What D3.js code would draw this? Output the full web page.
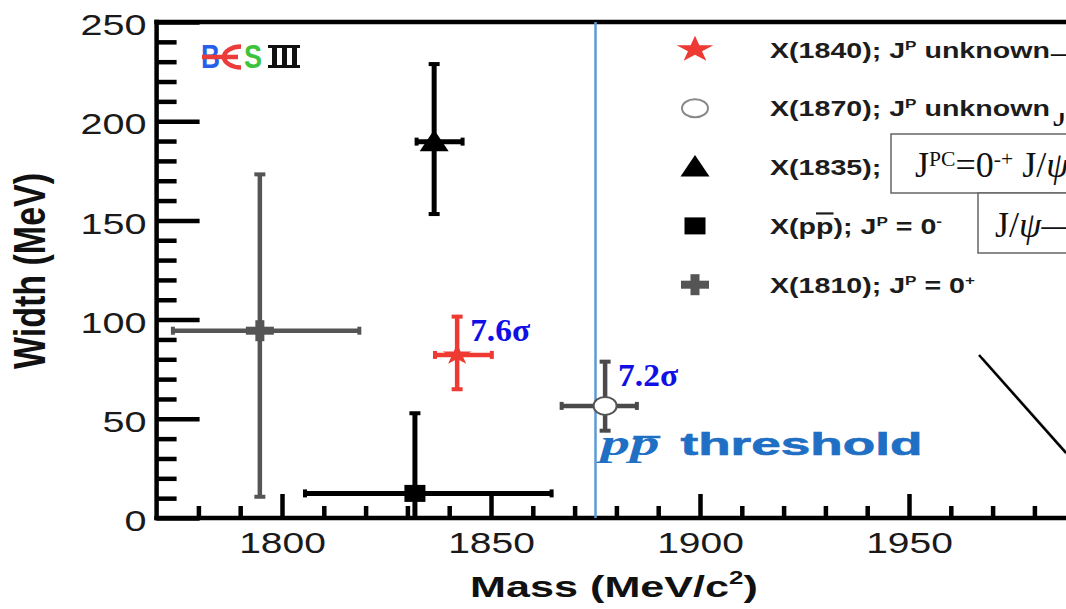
<!DOCTYPE html>
<html>
<head>
<meta charset="utf-8">
<script src="https://cdn.jsdelivr.net/npm/d3@7/dist/d3.min.js"></script>
<style>
  body { margin: 0; background: #fff; }
  svg { display: block; }
</style>
</head>
<body>
<div id="chart"></div>
<script>
// values (mass and width in MeV)
var states       = ["X(1840)", "X(1870)", "X(1835)", "X(pp)", "X(1810)"];
var mass         = [1841.9, 1877.3, 1836.4, 1831.8, 1794.7];
var massLo       = [1836.6, 1866.9, 1832.2, 1805.5, 1773.9];
var massHi       = [1850.2, 1884.9, 1843.2, 1864.5, 1818.5];
var width        = [82.2, 56.5, 189.7, 12.4, 94.4];
var widthLo      = [64.9, 44.0, 153.2, 0, 10.7];
var widthHi      = [101.5, 78.8, 228.8, 52.8, 173.2];
var significance = ["7.6σ", "7.2σ", "", "", ""];
var legendLabels = [
  "X(1840); J^{P} unknown",
  "X(1870); J^{P} unknown",
  "X(1835);",
  "X(p~{p}); J^{P} = 0^{-}",
  "X(1810); J^{P} = 0^{+}"
];
var thresholdMass = 1875;
var xTicks = [1800, 1850, 1900, 1950];
var yTicks = [0, 50, 100, 150, 200, 250];

// marker styles, one per state
var shapes    = ["star", "circle", "triangle", "square", "cross"];
var markColor = ["#ee3a32", "#fff", "#000", "#000", "#555"];
var barColor  = ["#ee3a32", "#4a4a4a", "#000", "#000", "#555"];

var svgWidth = 1066;
var svgHeight = 609;
var sans = "Liberation Sans, Arial, sans-serif";
var serif = "Liberation Serif, Times New Roman, serif";

var svg = d3.select("#chart")
  .append("svg")
  .attr("width", svgWidth)
  .attr("height", svgHeight)
  .attr("font-family", sans);

// the picture is stretched sideways, so the scales are not square
var x = d3.scaleLinear().domain([1770, 2000]).range([156.6, 1118]);
var y = d3.scaleLinear().domain([0, 250]).range([518, 22]);

// widen / squeeze a text horizontally around its x
function squeeze(sel, k) {
  sel.each(function () {
    var x0 = +this.getAttribute("x") || 0;
    this.setAttribute("transform", "translate(" + x0 * (1 - k) + ",0) scale(" + k + ",1)");
  });
}
function fitTo(sel, w) {
  squeeze(sel, w / sel.node().getBBox().width);
}

// "^{..}" superscript, "~{..}" overline, "*{..}" italic
function richText(sel, str, size, raise) {
  var parts = str.split(/(\^\{[^}]*\}|~\{[^}]*\}|\*\{[^}]*\})/).filter(function (s) { return s.length; });
  var up = false;
  parts.forEach(function (p) {
    var t = sel.append("tspan");
    if (p[0] === "^") {
      t.text(p.slice(2, -1)).attr("font-size", size * 0.6).attr("dy", -size * raise);
      up = true;
      return;
    }
    if (up) t.attr("dy", size * raise);
    up = false;
    if (p[0] === "~") t.text(p.slice(2, -1)).style("text-decoration", "overline");
    else if (p[0] === "*") t.text(p.slice(2, -1)).attr("font-style", "italic");
    else t.text(p);
  });
}

function marker(g, shape, fill, starR) {
  if (shape === "star") {
    g.append("path")
      .attr("d", d3.symbol().type(d3.symbolStar).size(starR * starR / 0.8908)())
      .attr("transform", "scale(1.4,1)")
      .attr("fill", fill);
  } else if (shape === "circle") {
    g.append("ellipse").attr("rx", starR > 12 ? 13 : 11.5).attr("ry", 9)
      .attr("fill", "#fff").attr("stroke", starR > 12 ? "#888" : "#555").attr("stroke-width", 2);
  } else if (shape === "triangle") {
    g.append("path").attr("d", "M0,-12L14.5,9.5L-14.5,9.5Z").attr("fill", fill);
  } else if (shape === "square") {
    g.append("rect").attr("x", -10.5).attr("y", -8.5).attr("width", 21).attr("height", 17).attr("fill", fill);
  } else if (shape === "cross") {
    g.append("rect").attr("x", -14).attr("y", -4).attr("width", 28).attr("height", 8).attr("fill", fill);
    g.append("rect").attr("x", -4.5).attr("y", -10.5).attr("width", 9).attr("height", 21).attr("fill", fill);
  }
}

// ---- axes ----
var xMinor = d3.range(1780, 2000, 10).filter(function (v) { return v % 50 !== 0; });
var yMinor = d3.range(10, 250, 10).filter(function (v) { return v % 50 !== 0; });

function styleAxis(g) {
  g.attr("font-family", sans);
  g.select(".domain").remove();
  g.selectAll("line").attr("stroke", "#000").attr("stroke-width", 4.5);
  g.selectAll("text")
    .attr("fill", "#1a1a1a")
    .attr("font-size", 30);
}

svg.append("g")
  .attr("transform", `translate(0,${y(0)})`)
  .call(d3.axisBottom(x).tickValues(xMinor).tickSize(-12).tickFormat(""))
  .call(styleAxis);

var xAxis = svg.append("g")
  .attr("transform", `translate(0,${y(0)})`)
  .call(d3.axisBottom(x).tickValues(xTicks).tickSize(-24).tickPadding(14).tickFormat(d3.format("d")))
  .call(styleAxis);
xAxis.selectAll("text").attr("dy", "0.71em").call(squeeze, 1.3);

svg.append("g")
  .attr("transform", `translate(${x(1770)},0)`)
  .call(d3.axisLeft(y).tickValues(yMinor).tickSize(-20).tickFormat(""))
  .call(styleAxis);

var yAxis = svg.append("g")
  .attr("transform", `translate(${x(1770)},0)`)
  .call(d3.axisLeft(y).tickValues(yTicks).tickSize(-43).tickPadding(10).tickFormat(d3.format("d")))
  .call(styleAxis);
yAxis.selectAll("text").attr("dy", "0.42em").call(squeeze, 1.32);

// frame: left, bottom and top lines
var frame = svg.append("g").attr("stroke", "#000").attr("stroke-width", 4.5).attr("stroke-linecap", "square");
frame.append("line").attr("x1", x(1770)).attr("x2", x(1770)).attr("y1", y(0)).attr("y2", y(250));
frame.append("line").attr("x1", x(1770)).attr("x2", x.range()[1]).attr("y1", y(0)).attr("y2", y(0));
frame.append("line").attr("x1", x(1770)).attr("x2", x.range()[1]).attr("y1", y(250)).attr("y2", y(250));

// axis titles
var xTitle = svg.append("text")
  .attr("x", 614).attr("y", 597)
  .attr("text-anchor", "middle")
  .attr("font-size", 30).attr("font-weight", "bold").attr("fill", "#111");
richText(xTitle, "Mass (MeV/c^{2})", 30, 0.42);
fitTo(xTitle, 288);

svg.append("g")
  .attr("transform", "translate(45,271) scale(1.3,1) rotate(-90)")
  .append("text")
  .attr("text-anchor", "middle")
  .attr("font-size", 34).attr("font-weight", "bold").attr("fill", "#111")
  .text("Width (MeV)");

// ---- p pbar threshold ----
svg.append("line")
  .attr("x1", x(thresholdMass)).attr("x2", x(thresholdMass))
  .attr("y1", y(250)).attr("y2", y(0))
  .attr("stroke", "#5b9bd5").attr("stroke-width", 2.5);

var thrX = x(thresholdMass) + 5;
var pp = svg.append("text")
  .attr("x", thrX).attr("y", 455)
  .attr("font-family", serif)
  .attr("font-style", "italic").attr("font-weight", "bold")
  .attr("font-size", 36).attr("fill", "#1f6fc5")
  .text("pp");
fitTo(pp, 64);
svg.append("line")
  .attr("x1", thrX + 33).attr("x2", thrX + 60)
  .attr("y1", 437).attr("y2", 437)
  .attr("stroke", "#1f6fc5").attr("stroke-width", 2.5);
var thr = svg.append("text")
  .attr("x", thrX + 80).attr("y", 455)
  .attr("font-size", 31).attr("font-weight", "bold").attr("fill", "#1f6fc5")
  .attr("stroke", "#1f6fc5").attr("stroke-width", 0.6)
  .text("threshold");
fitTo(thr, 242);

// ---- error bars and markers ----
var idx = d3.range(states.length);

var bars = svg.append("g").selectAll("g")
  .data(idx)
  .enter()
  .append("g")
  .attr("stroke", function (i) { return barColor[i]; })
  .attr("stroke-width", function (i) { return barColor[i] === "#000" ? 5 : 4.5; });

bars.append("line")
  .attr("x1", function (i) { return x(mass[i]); })
  .attr("x2", function (i) { return x(mass[i]); })
  .attr("y1", function (i) { return y(widthLo[i]); })
  .attr("y2", function (i) { return y(widthHi[i]); });
bars.append("line")
  .attr("x1", function (i) { return x(massLo[i]); })
  .attr("x2", function (i) { return x(massHi[i]); })
  .attr("y1", function (i) { return y(width[i]); })
  .attr("y2", function (i) { return y(width[i]); });

// little end caps
[widthLo, widthHi].forEach(function (arr) {
  bars.filter(function (i) { return arr[i] > 0; })
    .append("line")
    .attr("stroke-width", 4)
    .attr("x1", function (i) { return x(mass[i]) - 5.5; })
    .attr("x2", function (i) { return x(mass[i]) + 5.5; })
    .attr("y1", function (i) { return y(arr[i]); })
    .attr("y2", function (i) { return y(arr[i]); });
});
[massLo, massHi].forEach(function (arr) {
  bars.append("line")
    .attr("stroke-width", 4)
    .attr("x1", function (i) { return x(arr[i]); })
    .attr("x2", function (i) { return x(arr[i]); })
    .attr("y1", function (i) { return y(width[i]) - 4; })
    .attr("y2", function (i) { return y(width[i]) + 4; });
});

svg.append("g").selectAll("g")
  .data(idx)
  .enter()
  .append("g")
  .attr("transform", function (i) { return `translate(${x(mass[i])},${y(width[i])})`; })
  .each(function (i) { marker(d3.select(this), shapes[i], markColor[i], 11); });

// significance labels
svg.append("g").selectAll("text")
  .data(idx.filter(function (i) { return significance[i]; }))
  .enter()
  .append("text")
  .attr("x", function (i) { return x(mass[i]) + 13; })
  .attr("y", function (i) { return y(widthHi[i]) + 24; })
  .attr("font-family", serif)
  .attr("font-weight", "bold").attr("font-size", 31).attr("fill", "#1010e6")
  .text(function (i) { return significance[i]; })
  .call(squeeze, 1.08);

// ---- legend ----
var legend = svg.append("g").selectAll("g")
  .data(idx)
  .enter()
  .append("g")
  .attr("transform", function (i) { return `translate(0,${49.5 + i * 58.8})`; });

legend.append("g")
  .attr("transform", "translate(695,0)")
  .each(function (i) { marker(d3.select(this), shapes[i], markColor[i], 13.8); });

legend.append("text")
  .attr("x", 770).attr("y", 8)
  .attr("font-size", 22).attr("font-weight", "bold").attr("fill", "#1c1c1c")
  .each(function (i) { richText(d3.select(this), legendLabels[i], 22, 0.36); })
  .call(squeeze, 1.3);

// pasted boxes over the legend
svg.append("rect").attr("x", 891).attr("y", 134).attr("width", 200).attr("height", 59)
  .attr("fill", "#fff").attr("stroke", "#666").attr("stroke-width", 1.5);
svg.append("rect").attr("x", 978).attr("y", 193).attr("width", 200).attr("height", 60)
  .attr("fill", "#fff").attr("stroke", "#666").attr("stroke-width", 1.5);

var box1 = svg.append("text").attr("x", 915).attr("y", 177)
  .attr("font-family", serif).attr("font-size", 36).attr("fill", "#111");
richText(box1, "J^{PC}=0^{-+} J/*{ψ}", 36, 0.3);
var box2 = svg.append("text").attr("x", 995).attr("y", 237)
  .attr("font-family", serif).attr("font-size", 36).attr("fill", "#111");
richText(box2, "J/*{ψ}—", 36, 0.3);

// text running off the right edge, only slivers of it show
svg.append("text").attr("x", 1051).attr("y", 64)
  .attr("font-family", serif).attr("font-size", 36).attr("fill", "#111").text("–");
svg.append("clipPath").attr("id", "hookClip")
  .append("rect").attr("x", 1040).attr("y", 113).attr("width", 30).attr("height", 16);
svg.append("text").attr("x", 1053).attr("y", 126)
  .attr("clip-path", "url(#hookClip)")
  .attr("font-family", serif).attr("font-size", 36).attr("fill", "#111").text("J");

// arrow line coming in from the right
svg.append("line").attr("x1", 982).attr("y1", 358).attr("x2", 1069).attr("y2", 456)
  .attr("stroke", "#aaa").attr("stroke-width", 3).attr("opacity", 0.6);
svg.append("line").attr("x1", 979).attr("y1", 355).attr("x2", 1066).attr("y2", 453)
  .attr("stroke", "#000").attr("stroke-width", 2.5);

// ---- BESIII logo ----
var logo = svg.append("g").attr("font-weight", "bold");
var lb = logo.append("text").attr("x", 201).attr("y", 68).attr("font-size", 33).attr("fill", "#2760e8").text("B");
fitTo(lb, 19);
logo.append("path")
  .attr("d", "M241,46.5 A17,10.5 0 0 0 241,67.5 M202,57 L238,57")
  .attr("fill", "none").attr("stroke", "#ec3b3b").attr("stroke-width", 4.5);
var ls = logo.append("text").attr("x", 244).attr("y", 68).attr("font-size", 33).attr("fill", "#3cc33c").text("S");
fitTo(ls, 18);
var numeral = logo.append("g").attr("fill", "#111");
numeral.append("rect").attr("x", 268).attr("y", 45).attr("width", 32).attr("height", 3);
numeral.append("rect").attr("x", 268).attr("y", 65).attr("width", 32).attr("height", 3);
[272, 282, 292].forEach(function (bx) {
  numeral.append("rect").attr("x", bx).attr("y", 45).attr("width", 5).attr("height", 23);
});
</script>
</body>
</html>
